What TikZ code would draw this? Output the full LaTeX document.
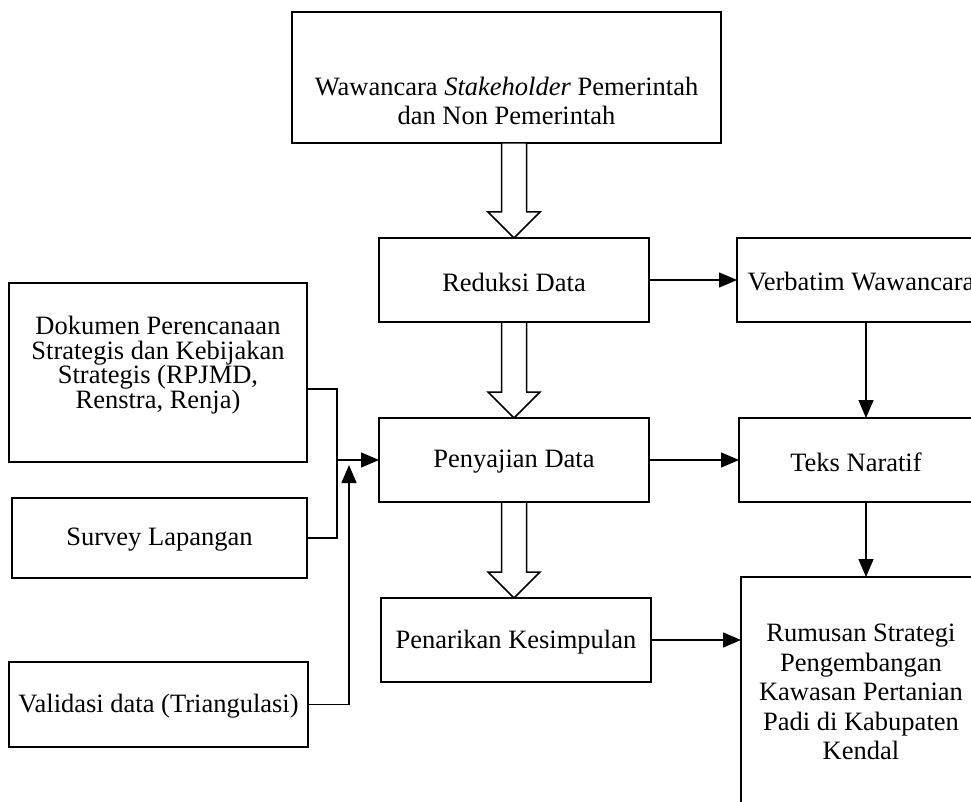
\documentclass[tikz,border=0pt]{standalone}
\usepackage{fontspec}
\setmainfont{Liberation Serif}
\usetikzlibrary{arrows.meta,calc}
\begin{document}
\begin{tikzpicture}[x=1pt,y=-1pt,
  box/.style={draw,line width=1.5pt,rectangle,inner sep=0pt,outer sep=0pt},
  lbl/.style={align=center,font=\fontsize{26.5}{29}\selectfont,inner sep=0pt},
  conn/.style={line width=1.5pt},
  arr/.style={conn,-{Triangle[length=18pt,width=15pt]}},
  hollow/.style={draw,line width=1.5pt,fill=white,line join=miter}]
\useasboundingbox (0,0) rectangle (971,802);
\clip (0,0) rectangle (971,802);
% boxes
\node[box,minimum width=429pt,minimum height=131pt] (top) at (506.5,77.5) {};
\node[box,minimum width=270pt,minimum height=84pt] (red) at (514,280) {};
\node[box,minimum width=270pt,minimum height=84pt] (pen) at (514,460) {};
\node[box,minimum width=270pt,minimum height=84pt] (tar) at (516,640) {};
\node[box,minimum width=258pt,minimum height=84pt] (verb) at (866,280) {};
\node[box,minimum width=254pt,minimum height=84pt] (teks) at (866,460) {};
\node[box,minimum width=250pt,minimum height=253pt] (rum) at (866,703.5) {};
\node[box,minimum width=298pt,minimum height=179pt] (dok) at (158,372.5) {};
\node[box,minimum width=295pt,minimum height=80pt] (sur) at (159.5,538) {};
\node[box,minimum width=299pt,minimum height=85pt] (val) at (158.5,704.5) {};
% labels
\node[lbl] (topL) at (506.5,101) {Wawancara \textit{Stakeholder} Pemerintah\\dan Non Pemerintah};
\node[lbl] (redL) at (514,282) {Reduksi Data};
\node[lbl] (penL) at (514,462) {Penyajian Data};
\node[lbl] (tarL) at (516,642) {Penarikan Kesimpulan};
\node[lbl] (verbL) at (861,282) {Verbatim Wawancara};
\node[lbl] (teksL) at (856,462) {Teks Naratif};
\node[lbl,font=\fontsize{26.5}{29.5}\selectfont] (rumL) at (861,692) {Rumusan Strategi\\Pengembangan\\Kawasan Pertanian\\Padi di Kabupaten\\Kendal};
\node[lbl,font=\fontsize{26.5}{24.5}\selectfont] (dokL) at (158,365) {Dokumen Perencanaan\\Strategis dan Kebijakan\\Strategis (RPJMD,\\Renstra, Renja)};
\node[lbl] (surL) at (159.5,540) {Survey Lapangan};
\node[lbl] (valL) at (158.5,706) {Validasi data (Triangulasi)};
% hollow arrows
\draw[hollow] ($(top.south -| red.north)+(-12.5,0)$) -- ($(red.north)+(-12.5,-26)$) -- ($(red.north)+(-26,-26)$) -- (red.north) -- ($(red.north)+(26,-26)$) -- ($(red.north)+(12.5,-26)$) -- ($(top.south -| red.north)+(12.5,0)$) -- cycle;
\draw[hollow] ($(red.south)+(-12.5,0)$) -- ($(pen.north)+(-12.5,-26)$) -- ($(pen.north)+(-26,-26)$) -- (pen.north) -- ($(pen.north)+(26,-26)$) -- ($(pen.north)+(12.5,-26)$) -- ($(red.south)+(12.5,0)$) -- cycle;
\draw[hollow] ($(pen.south)+(-12.5,0)$) -- ($(tar.north -| pen.south)+(-12.5,-26)$) -- ($(tar.north -| pen.south)+(-26,-26)$) -- (tar.north -| pen.south) -- ($(tar.north -| pen.south)+(26,-26)$) -- ($(tar.north -| pen.south)+(12.5,-26)$) -- ($(pen.south)+(12.5,0)$) -- cycle;
% left connectors
\coordinate (busTop) at (337,389);
\coordinate (busMid) at (337,460);
\coordinate (valBend) at (349,704.5);
\coordinate (valTip) at (349,465);
\draw[conn] (dok.east |- busTop) -- (busTop) -- (busTop |- sur.east) -- (sur.east);
\draw[arr] (busMid) -- (pen.west);
\draw[arr] (val.east) -- (valBend) -- (valTip);
% right connectors
\draw[arr] (red.east) -- (verb.west);
\draw[arr] (pen.east) -- (teks.west);
\draw[arr] (tar.east) -- (rum.west |- tar.east);
\draw[arr] (verb.south) -- (teks.north);
\draw[arr] (teks.south) -- (rum.north);
\end{tikzpicture}
\end{document}
